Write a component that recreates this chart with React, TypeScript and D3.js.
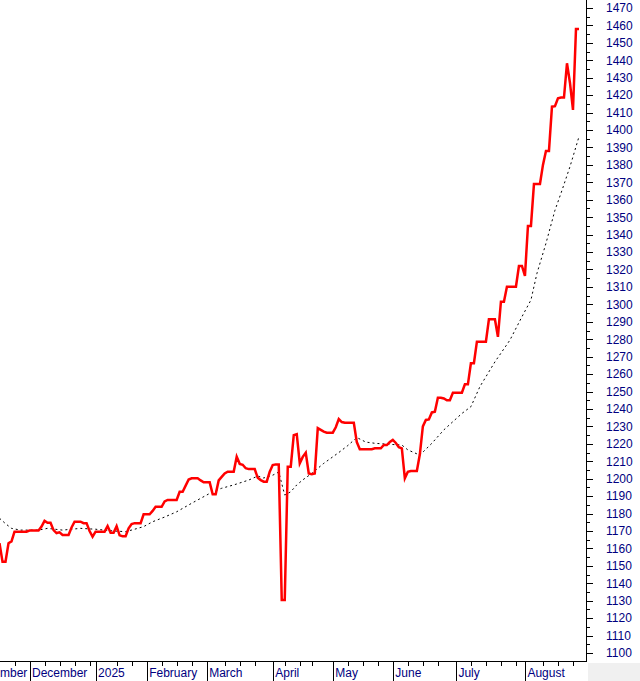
import React from 'react';
import * as d3 from 'd3';

// Daily closes, one per trading day, starting mid-November 2024
const closes: number[] = [
  1163, 1152.4, 1152.4, 1163, 1164, 1169.6, 1169.6, 1169.6, 1169.6, 1169.6,
  1170.2, 1170.2, 1170.2, 1170.2, 1172.5, 1175.8, 1174.7, 1174.7, 1170.5, 1168.8,
  1169.2, 1167.7, 1167.7, 1167.7, 1172, 1175.3, 1175.3, 1175.3, 1174.5, 1174.5,
  1170, 1166.7, 1169.6, 1169.6, 1169.6, 1169.6, 1172.8, 1169, 1169, 1172.8,
  1167.5, 1167, 1167, 1171.5, 1174, 1174.5, 1174.5, 1174.5, 1179.6, 1179.6,
  1179.6, 1181.5, 1183.9, 1183.9, 1183.9, 1187, 1187.8, 1187.8, 1187.8, 1187.8,
  1192.5, 1192.5, 1196, 1199.5, 1200.2, 1200.2, 1200.2, 1199, 1197.9, 1197.9,
  1197.9, 1191, 1191, 1199, 1201, 1203, 1204, 1204, 1204, 1212.6,
  1208.5, 1208, 1206, 1205.5, 1205.5, 1205.5, 1200.5, 1199.2, 1198.3, 1198.3,
  1204, 1207.8, 1208.2, 1208.2, 1130.4, 1130.4, 1206.9, 1206.9, 1225, 1225.5,
  1208.8, 1212.5, 1214.9, 1203, 1202.6, 1203, 1229, 1228, 1227, 1226.4,
  1226.4, 1226.4, 1229.5, 1234.2, 1232.5, 1232.1, 1232.1, 1232.1, 1232.1, 1221,
  1216.9, 1216.9, 1216.9, 1216.9, 1216.9, 1217.4, 1217.4, 1217.4, 1219.3, 1219.3,
  1221, 1222.2, 1220.5, 1218, 1217.4, 1200.2, 1204, 1204.4, 1204.4, 1204.4,
  1214, 1230, 1233.7, 1234, 1238, 1238.4, 1246.4, 1246.4, 1246, 1245,
  1245, 1249.3, 1249.3, 1249.3, 1249.3, 1254.1, 1254.1, 1266.2, 1266.2, 1278.6,
  1278.6, 1278.6, 1278.6, 1291.4, 1291.4, 1291.4, 1281.4, 1301.5, 1301.5, 1310.1,
  1310.1, 1310.1, 1310.1, 1322, 1322, 1316.3, 1345, 1345, 1369, 1369,
  1369, 1380, 1388, 1388, 1413.4, 1413.7, 1418.2, 1418.6, 1418.6, 1438.3,
  1427, 1411.5, 1458, 1458,
];

// Moving average, read at the trading days where its slope changes
const avgDay: number[] = [
  0, 2, 4, 7, 13, 16, 21, 27, 32, 38, 42, 45, 48, 51, 55, 59, 64, 69, 71, 74,
  78, 83, 86, 88, 91, 93, 95, 97, 99, 101, 104, 108, 113, 116, 119, 122, 125, 130, 134, 136,
  140, 144, 148, 154, 157, 160, 165, 170, 174, 177, 179, 182, 185, 187, 190, 191, 193,
];
const avgValue: number[] = [
  1177.3, 1174.2, 1171.5, 1170.5, 1170.5, 1171.5, 1170.5, 1171.5, 1171, 1170, 1169.6, 1171, 1172.5, 1175.3, 1178, 1181, 1185.9, 1190.6, 1192.5, 1194.5,
  1196.4, 1199.2, 1201.5, 1200.4, 1202, 1203.8, 1190.6, 1192.5, 1196.4, 1199.3, 1203, 1208.8, 1215, 1219, 1223.6, 1221, 1220.3, 1219.7, 1219.3, 1216.5,
  1213.5, 1220.3, 1228, 1237.4, 1241.3, 1252.8, 1267, 1279.5, 1292.9, 1302.5, 1317.8, 1335, 1354, 1363.7, 1379, 1384.7, 1396.2,
];

// Month separators (trading-day index of first session) and their labels
const monthLabels = ['November', 'December', '2025', 'February', 'March', 'April', 'May', 'June', 'July', 'August'];
const monthDay = [-10, 10, 32, 49, 69, 91, 111, 131, 152, 175];
const weekDay = [5, 15, 20, 25, 30, 39, 44, 54, 59, 64, 75, 80, 85, 95, 100, 104, 116, 121, 126, 136, 141, 146, 157, 162, 167, 172, 181, 186, 191];

const majorTicks = d3.range(1100, 1471, 10);
const minorTicks = d3.range(1105, 1471, 10);

const W = 640;
const H = 681;
const axisX = 586.5;
const axisY = 661.5;
const ink = '#000080';
const font = '"Liberation Sans", Arial, sans-serif';

const App: React.FC = () => {
  const x = d3.scaleLinear().domain([0, 195.5]).range([-0.5, axisX]);
  const y = d3.scaleLinear().domain([1100, 1470]).range([653, 8]);

  const closeLine = d3
    .line<number>()
    .x((_, i) => x(i))
    .y((d) => y(d));

  const avgLine = d3
    .line<number>()
    .x((_, i) => x(avgDay[i]))
    .y((d) => y(d));

  return (
    <>
      <style>{'body{margin:0}'}</style>
      <svg width={W} height={H} style={{ display: 'block', background: '#fff' }}>
        <path d={avgLine(avgValue) ?? ''} fill="none" stroke="#000" strokeWidth={1} strokeDasharray="2 3" />
        <path d={closeLine(closes) ?? ''} fill="none" stroke="#ff0000" strokeWidth={2.5} strokeLinejoin="miter" />

        {/* price axis */}
        <g shapeRendering="crispEdges" stroke="#000">
          <line x1={axisX} x2={axisX} y1={0} y2={axisY} />
          {majorTicks.map((v) => (
            <line key={v} x1={axisX} x2={axisX + 6} y1={Math.round(y(v)) + 0.5} y2={Math.round(y(v)) + 0.5} />
          ))}
          {minorTicks.map((v) => (
            <line key={v} x1={axisX} x2={axisX + 3} y1={Math.round(y(v)) + 0.5} y2={Math.round(y(v)) + 0.5} />
          ))}
        </g>
        {majorTicks.map((v) => (
          <text key={v} x={606} y={y(v)} dy="0.36em" fontFamily={font} fontSize={12} fill={ink}>
            {v}
          </text>
        ))}

        {/* time axis */}
        <rect x={588} y={663} width={W - 588} height={H - 663} fill="#f0f0f0" />
        <g shapeRendering="crispEdges" stroke="#000">
          <line x1={0} x2={axisX} y1={axisY} y2={axisY} />
          {monthDay.map((d) => (
            <line key={d} x1={Math.round(x(d)) + 0.5} x2={Math.round(x(d)) + 0.5} y1={axisY} y2={H} />
          ))}
          {weekDay.map((d) => (
            <line key={d} x1={Math.round(x(d)) + 0.5} x2={Math.round(x(d)) + 0.5} y1={axisY} y2={axisY + 4} />
          ))}
        </g>
        {monthDay.map((d, i) => (
          <text key={d} x={x(d) + 2.5} y={677} fontFamily={font} fontSize={12} fill={ink}>
            {monthLabels[i]}
          </text>
        ))}
      </svg>
    </>
  );
};

export default App;
